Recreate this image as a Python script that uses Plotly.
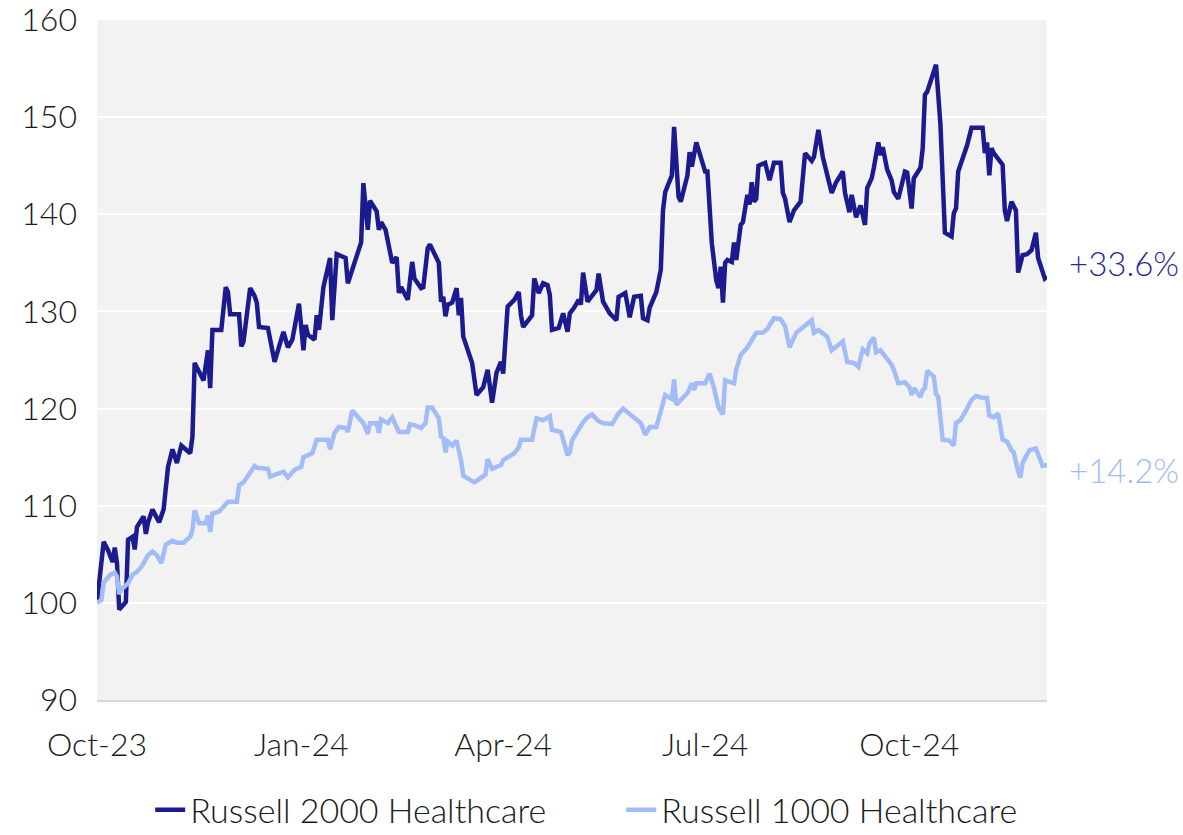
import plotly.graph_objects as go

# ---------------- data ----------------
r2000_dates = [
    "2023-10-01","2023-10-04","2023-10-06","2023-10-08","2023-10-09","2023-10-10","2023-10-11","2023-10-14","2023-10-15","2023-10-17",
    "2023-10-18","2023-10-19","2023-10-22","2023-10-23","2023-10-24","2023-10-26","2023-10-29","2023-10-31","2023-11-02","2023-11-04",
    "2023-11-06","2023-11-08","2023-11-12","2023-11-13","2023-11-14","2023-11-18","2023-11-20","2023-11-21","2023-11-22","2023-11-26",
    "2023-11-28","2023-11-29","2023-11-30","2023-12-04","2023-12-05","2023-12-06","2023-12-09","2023-12-11","2023-12-12","2023-12-13",
    "2023-12-17","2023-12-20","2023-12-24","2023-12-26","2023-12-28","2023-12-31","2024-01-02","2024-01-03","2024-01-04","2024-01-07",
    "2024-01-08","2024-01-09","2024-01-11","2024-01-14","2024-01-15","2024-01-17","2024-01-21","2024-01-22","2024-01-28","2024-01-29",
    "2024-01-31","2024-02-01","2024-02-04","2024-02-05","2024-02-06","2024-02-08","2024-02-11","2024-02-13","2024-02-14","2024-02-15",
    "2024-02-18","2024-02-20","2024-02-21","2024-02-24","2024-02-25","2024-02-27","2024-02-28","2024-03-02","2024-03-03","2024-03-04",
    "2024-03-05","2024-03-06","2024-03-07","2024-03-09","2024-03-11","2024-03-12","2024-03-13","2024-03-14","2024-03-18","2024-03-20",
    "2024-03-23","2024-03-25","2024-03-27","2024-03-29","2024-03-31","2024-04-01","2024-04-03","2024-04-06","2024-04-08","2024-04-09",
    "2024-04-10","2024-04-14","2024-04-15","2024-04-17","2024-04-19","2024-04-21","2024-04-22","2024-04-23","2024-04-26","2024-04-28",
    "2024-04-30","2024-05-01","2024-05-03","2024-05-05","2024-05-06","2024-05-07","2024-05-09","2024-05-13","2024-05-14","2024-05-16",
    "2024-05-19","2024-05-22","2024-05-23","2024-05-26","2024-05-28","2024-05-30","2024-06-02","2024-06-03","2024-06-05","2024-06-06",
    "2024-06-09","2024-06-11","2024-06-12","2024-06-13","2024-06-16","2024-06-17","2024-06-19","2024-06-20","2024-06-23","2024-06-24",
    "2024-06-25","2024-06-27","2024-06-30","2024-07-01","2024-07-02","2024-07-04","2024-07-06","2024-07-07","2024-07-08","2024-07-09",
    "2024-07-10","2024-07-11","2024-07-13","2024-07-14","2024-07-15","2024-07-17","2024-07-18","2024-07-20","2024-07-21","2024-07-22",
    "2024-07-23","2024-07-24","2024-07-25","2024-07-28","2024-07-30","2024-08-01","2024-08-04","2024-08-05","2024-08-06","2024-08-08",
    "2024-08-10","2024-08-13","2024-08-15","2024-08-18","2024-08-19","2024-08-21","2024-08-23","2024-08-25","2024-08-27","2024-08-29",
    "2024-09-01","2024-09-02","2024-09-04","2024-09-05","2024-09-07","2024-09-09","2024-09-11","2024-09-12","2024-09-14","2024-09-15",
    "2024-09-17","2024-09-18","2024-09-19","2024-09-21","2024-09-23","2024-09-24","2024-09-26","2024-09-29","2024-09-30","2024-10-02",
    "2024-10-03","2024-10-06","2024-10-07","2024-10-08","2024-10-09","2024-10-13","2024-10-15","2024-10-17","2024-10-20","2024-10-21",
    "2024-10-22","2024-10-23","2024-10-27","2024-10-29","2024-11-03","2024-11-04","2024-11-05","2024-11-06","2024-11-07","2024-11-08",
    "2024-11-12","2024-11-13","2024-11-14","2024-11-16","2024-11-18","2024-11-19","2024-11-21","2024-11-23","2024-11-25","2024-11-27",
    "2024-11-28","2024-12-01","2024-12-02",
]
r2000_values = [
    100.0,106.3,105.4,104.2,105.7,104.1,99.3,100.1,106.5,106.8,
    105.5,107.8,108.9,107.1,108.3,109.6,108.3,109.6,114.0,115.8,
    114.4,116.2,115.4,117.1,124.7,122.9,126.0,122.1,128.1,128.1,
    132.5,132.0,129.7,129.7,126.4,126.9,132.4,131.6,130.9,128.4,
    128.3,124.8,127.9,126.3,127.1,130.8,126.0,128.6,127.6,127.1,
    129.6,128.1,132.5,135.5,129.1,135.9,135.5,132.9,137.1,143.2,
    138.4,141.4,140.3,138.4,139.2,138.4,135.0,135.6,131.9,132.5,
    131.2,135.1,133.4,132.4,132.5,136.5,136.9,135.5,135.0,131.0,
    131.5,129.5,130.7,130.9,132.4,129.6,131.4,127.4,124.7,121.4,
    122.2,124.0,120.6,123.7,124.8,123.6,130.5,131.2,132.0,129.6,
    128.4,129.6,133.4,131.9,132.9,132.7,131.7,128.1,128.3,129.8,
    127.9,129.8,130.4,131.2,130.7,134.0,131.0,132.2,133.9,131.0,
    129.8,129.1,131.5,131.9,129.4,131.5,131.6,129.3,129.1,130.4,
    132.0,134.3,140.4,142.3,144.0,149.0,141.8,141.3,144.0,146.4,
    144.9,147.4,145.1,144.4,144.4,137.0,133.2,132.4,134.6,130.9,
    135.0,135.3,135.1,137.1,135.3,138.9,139.2,142.0,141.0,143.3,
    141.3,141.6,145.0,145.3,143.5,145.3,145.3,142.2,141.6,139.2,
    140.4,141.3,146.3,145.5,145.9,148.7,145.9,144.2,142.2,143.3,
    144.4,142.2,140.2,142.0,139.7,140.9,138.9,142.7,143.7,144.8,
    147.4,146.1,146.9,144.6,143.5,142.3,141.6,144.4,144.3,140.6,
    143.7,144.8,146.8,152.3,152.6,155.4,149.2,138.1,137.7,140.1,
    140.6,144.4,147.1,148.9,148.9,146.3,147.4,144.0,146.8,146.3,
    145.1,140.4,139.3,141.3,140.4,134.0,135.8,135.9,136.3,138.1,
    135.5,133.4,133.6,
]

r1000_dates = [
    "2023-10-01","2023-10-03","2023-10-04","2023-10-07","2023-10-09","2023-10-10","2023-10-11","2023-10-12","2023-10-15","2023-10-17",
    "2023-10-19","2023-10-21","2023-10-24","2023-10-26","2023-10-28","2023-10-30","2023-11-01","2023-11-04","2023-11-06","2023-11-09",
    "2023-11-12","2023-11-13","2023-11-14","2023-11-16","2023-11-19","2023-11-20","2023-11-21","2023-11-22","2023-11-25","2023-11-29",
    "2023-12-03","2023-12-04","2023-12-06","2023-12-09","2023-12-11","2023-12-12","2023-12-17","2023-12-18","2023-12-21","2023-12-24",
    "2023-12-26","2023-12-29","2024-01-01","2024-01-02","2024-01-06","2024-01-08","2024-01-13","2024-01-14","2024-01-16","2024-01-18",
    "2024-01-21","2024-01-22","2024-01-24","2024-01-27","2024-01-29","2024-01-31","2024-02-01","2024-02-04","2024-02-05","2024-02-06",
    "2024-02-09","2024-02-11","2024-02-14","2024-02-18","2024-02-19","2024-02-21","2024-02-24","2024-02-26","2024-02-27","2024-02-29",
    "2024-03-03","2024-03-04","2024-03-05","2024-03-06","2024-03-07","2024-03-09","2024-03-11","2024-03-13","2024-03-14","2024-03-19",
    "2024-03-24","2024-03-25","2024-03-27","2024-03-31","2024-04-01","2024-04-06","2024-04-08","2024-04-09","2024-04-14","2024-04-16",
    "2024-04-19","2024-04-22","2024-04-23","2024-04-27","2024-04-30","2024-05-01","2024-05-02","2024-05-03","2024-05-07","2024-05-09",
    "2024-05-11","2024-05-14","2024-05-16","2024-05-20","2024-05-23","2024-05-25","2024-05-28","2024-05-30","2024-06-02","2024-06-04",
    "2024-06-06","2024-06-09","2024-06-11","2024-06-13","2024-06-16","2024-06-17","2024-06-18","2024-06-21","2024-06-23","2024-06-25",
    "2024-06-26","2024-06-27","2024-07-01","2024-07-03","2024-07-05","2024-07-07","2024-07-09","2024-07-10","2024-07-14","2024-07-15",
    "2024-07-17","2024-07-20","2024-07-24","2024-07-27","2024-07-29","2024-08-01","2024-08-04","2024-08-06","2024-08-08","2024-08-11",
    "2024-08-15","2024-08-18","2024-08-19","2024-08-21","2024-08-25","2024-08-27","2024-08-28","2024-09-01","2024-09-03","2024-09-06",
    "2024-09-08","2024-09-10","2024-09-12","2024-09-13","2024-09-15","2024-09-16","2024-09-18","2024-09-21","2024-09-23","2024-09-24",
    "2024-09-26","2024-09-29","2024-10-01","2024-10-02","2024-10-03","2024-10-06","2024-10-07","2024-10-08","2024-10-09","2024-10-12",
    "2024-10-13","2024-10-14","2024-10-16","2024-10-19","2024-10-21","2024-10-22","2024-10-24","2024-10-27","2024-10-29","2024-10-31",
    "2024-11-03","2024-11-05","2024-11-06","2024-11-08","2024-11-10","2024-11-12","2024-11-14","2024-11-16","2024-11-17","2024-11-19",
    "2024-11-20","2024-11-21","2024-11-24","2024-11-27","2024-11-30","2024-12-02",
]
r1000_values = [
    100.0,100.3,102.1,102.9,103.1,102.7,100.9,101.4,102.0,102.9,
    103.2,103.7,104.9,105.3,104.9,104.1,106.0,106.4,106.2,106.2,
    106.8,107.5,109.5,108.2,108.2,109.0,107.3,109.2,109.4,110.4,
    110.4,112.1,112.4,113.5,114.1,113.9,113.8,113.0,113.2,113.5,
    112.9,113.7,114.0,115.0,115.4,116.8,116.8,115.8,117.5,118.1,
    118.0,117.6,119.8,119.1,118.5,117.4,118.5,118.5,117.5,118.9,
    118.5,119.1,117.6,117.6,118.4,118.3,118.0,118.5,120.1,120.1,
    119.0,117.1,117.0,115.5,116.6,116.2,116.7,114.7,113.1,112.4,
    113.2,114.8,113.8,114.2,114.7,115.4,116.0,116.8,116.8,119.0,
    118.8,119.2,117.8,117.6,115.2,115.5,116.7,117.1,118.6,119.1,
    119.4,118.7,118.5,118.4,119.5,120.0,119.4,119.0,118.5,117.3,
    118.1,118.1,119.6,121.4,121.0,123.0,120.4,121.2,121.6,122.6,
    121.9,122.6,122.6,123.6,122.1,120.1,119.4,122.9,122.6,124.0,
    125.5,126.3,127.8,127.8,128.2,129.3,129.2,128.5,126.3,127.8,
    128.6,129.1,127.8,128.1,127.4,126.0,126.2,126.9,124.8,124.7,
    124.3,126.1,125.7,126.7,127.3,125.8,126.0,125.2,124.5,124.0,
    122.6,122.7,122.2,121.4,122.1,121.2,121.9,122.1,123.9,123.3,
    121.5,121.2,116.8,116.7,116.2,118.5,118.8,120.0,120.9,121.3,
    121.1,121.1,119.3,119.1,119.5,116.8,116.6,115.7,115.5,113.5,
    112.9,114.4,115.7,115.9,114.1,114.2,
]

series_names = ["Russell 2000 Healthcare", "Russell 1000 Healthcare"]
end_labels = ["+33.6%", "+14.2%"]
label_y = [135.0, 113.7]
tick_dates = ["2023-10-01", "2024-01-01", "2024-04-01", "2024-07-01", "2024-10-01"]
tick_text = ["Oct-23", "Jan-24", "Apr-24", "Jul-24", "Oct-24"]
x_range = ["2023-10-01", "2024-12-02"]
y_ticks = [90, 100, 110, 120, 130, 140, 150, 160]

# ---------------- style ----------------
DARK = "#1B1B8F"
LIGHT = "#A2BCF8"
FONT = "Lato"
TXT = "#1a1a1a"
FS = 32

fig = go.Figure()
fig.add_trace(go.Scatter(x=r2000_dates, y=r2000_values, mode="lines", name=series_names[0],
                         line=dict(color=DARK, width=4.5)))
fig.add_trace(go.Scatter(x=r1000_dates, y=r1000_values, mode="lines", name=series_names[1],
                         line=dict(color=LIGHT, width=4.5)))

for txt, yv, col in zip(end_labels, label_y, ["#2A2A96", LIGHT]):
    fig.add_annotation(x=1.021, xref="paper", y=yv, yref="y", text=txt, showarrow=False,
                       xanchor="left", yanchor="middle",
                       font=dict(family=FONT, size=33, color=col, weight=300))

fig.update_layout(
    width=1183, height=835,
    margin=dict(l=97, r=136, t=20, b=135, autoexpand=False),
    paper_bgcolor="white", plot_bgcolor="#F2F2F2",
    font=dict(family=FONT, size=FS, color=TXT, weight=300),
    showlegend=True,
    legend=dict(orientation="h", x=0.056, xanchor="left", y=-0.162, yanchor="middle",
                font=dict(family=FONT, size=34, color=TXT, weight=300),
                itemwidth=30, entrywidth=426, entrywidthmode="pixels",
                tracegroupgap=0, bgcolor="rgba(0,0,0,0)"),
)
fig.update_xaxes(type="date", range=x_range, tickvals=tick_dates, ticktext=tick_text,
                 showgrid=False, zeroline=False, showline=True, linecolor="#D9D9D9", linewidth=2,
                 ticks="", ticklabelstandoff=16, automargin=False, ticklabeloverflow="allow",
                 tickfont=dict(family=FONT, size=FS, color=TXT, weight=300))
fig.update_yaxes(range=[90, 160], tickvals=y_ticks, showgrid=True, gridcolor="white", gridwidth=2,
                 zeroline=False, showline=False, ticks="", ticklabelstandoff=19, automargin=False,
                 ticklabeloverflow="allow",
                 tickfont=dict(family=FONT, size=FS, color=TXT, weight=300))

fig.write_html("out.html", config={"displayModeBar": False},
               post_script="document.body.style.margin='0px';document.body.style.overflow='hidden';")
